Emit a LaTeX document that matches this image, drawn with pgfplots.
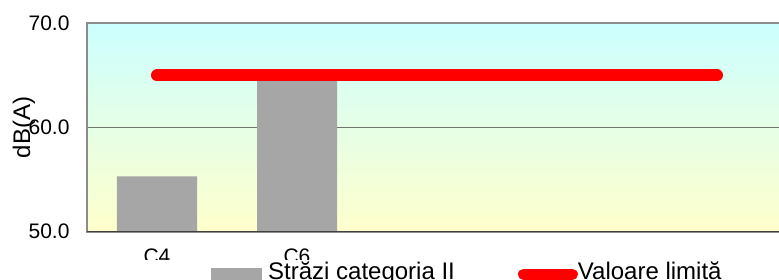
\documentclass[border=0pt]{standalone}
\usepackage{fontspec}
\setmainfont{Liberation Sans}
\usepackage{pgfplots}
\pgfplotsset{compat=1.18}
\definecolor{bargray}{HTML}{A6A6A6}
\definecolor{topc}{HTML}{CCFFFF}
\definecolor{botc}{HTML}{FFFFCC}
\definecolor{gridc}{HTML}{6F776F}
\definecolor{framec}{HTML}{8C8C8C}
\definecolor{basec}{HTML}{404040}
\begin{document}
\begin{tikzpicture}
\begin{axis}[
  scale only axis, width=700bp, height=208bp,
  xmin=-0.5, xmax=4.5, ymin=50, ymax=70,
  xtick={0,1}, xticklabels={C4,C6},
  ytick={50,60,70},
  major tick length=0pt,
  ymajorgrids, grid style={draw=gridc, line width=1.5bp},
  axis background/.style={shade, top color=topc, bottom color=botc},
  axis line style={draw=framec, line width=2bp},
  /pgf/number format/.cd, fixed, fixed zerofill, precision=1, assume math mode=true,
  /pgfplots/.cd,
  tick label style={font=\fontsize{21bp}{25bp}\selectfont},
  yticklabel style={xshift=-14bp},
  xticklabel style={yshift=-14bp},
  ylabel={dB(A)},
  ylabel style={at={(axis description cs:-0.0814,0.5)}, anchor=base, font=\fontsize{24bp}{28bp}\selectfont},
  legend columns=2,
  legend cell align=left,
  legend style={at={(axis description cs:0,0)}, anchor=north west, xshift=43bp, yshift=-28.5bp, fill=white, draw=none, inner xsep=81bp, inner ysep=1.5bp, font=\fontsize{24bp}{28bp}\selectfont, nodes={inner sep=0pt},
    /tikz/column 1/.style={column sep=6bp}, /tikz/column 2/.style={column sep=63bp}, /tikz/column 3/.style={column sep=0bp}},
]
\addplot[ybar, bar width=80bp, fill=bargray, draw=none,
  legend image code/.code={\fill[bargray] (0bp,-10bp) rectangle (51bp,3.7bp);}]
  coordinates {(0,55.3) (1,64.6)};
\addlegendentry{Străzi categoria II}
\addplot[red, line width=12bp, line cap=round, mark=none,
  legend image code/.code={\draw[red, line width=11bp, line cap=round] (0bp,-3bp) -- (49bp,-3bp);}]
  coordinates {(0,65) (1,65) (2,65) (3,65) (4,65)};
\addlegendentry{Valoare limită}
\draw[basec, line width=2bp] (rel axis cs:0,0) -- (rel axis cs:1,0);
\end{axis}
\pgfresetboundingbox
\path[use as bounding box] (-87bp,-48.5bp) rectangle (692bp,231.5bp);
\end{tikzpicture}
\end{document}
